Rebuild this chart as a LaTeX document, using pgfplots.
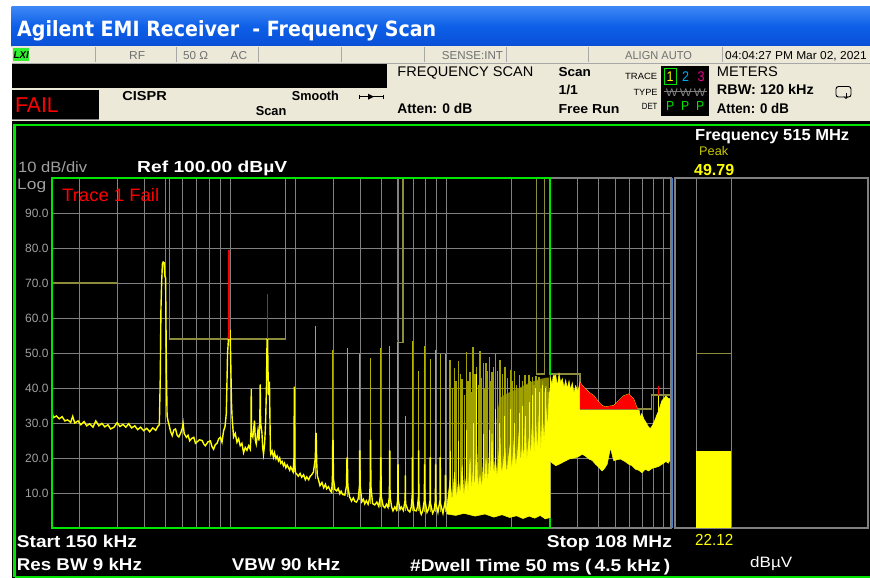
\documentclass[border=0pt]{standalone}
\usepackage{fontspec}
\setmainfont{Liberation Sans}
\newfontfamily\tahoma{DejaVu Sans}
\usepackage{graphicx}
\usepackage{pgfplots}
\pgfplotsset{compat=1.18}
\definecolor{gridgray}{HTML}{808080}
\definecolor{labelgray}{HTML}{A0A0A0}
\definecolor{tyellow}{HTML}{FFFF00}
\definecolor{spikeyellow}{HTML}{B4B400}
\definecolor{spikeolive}{HTML}{A0A000}
\definecolor{limitolive}{HTML}{8C8C3C}
\definecolor{olivefill}{HTML}{7D7D00}
\definecolor{scrgreen}{HTML}{00E600}
\definecolor{sepblue}{HTML}{4A80C8}
\definecolor{xpblue}{HTML}{0D5FE8}
\definecolor{xptop}{HTML}{3C86F5}
\definecolor{xpbot}{HTML}{0A4FD6}
\definecolor{beige}{HTML}{ECE9D8}
\definecolor{rowgray}{HTML}{707070}
\definecolor{sepgray}{HTML}{A8A8A8}
\definecolor{peakyellow}{HTML}{C8C800}
\definecolor{lxigreen}{HTML}{30F030}
\newcommand{\TX}[6]{\node[anchor=base west,inner sep=0pt,text=#6] at (#1pt,-#2pt) {\resizebox{#3pt}{\height}{\fontsize{#4}{#4}\selectfont #5}};}
\begin{document}
\begin{tikzpicture}
\path[use as bounding box] (0pt,0pt) rectangle (870pt,-578pt);
\fill[white] (0pt,0pt) rectangle (870pt,-578pt);
% title bar
\shade[top color=xptop, bottom color=xpbot, middle color=xpblue] (11.5pt,-7pt) rectangle (870pt,-46.5pt);
\TX{17}{36.5}{419}{21}{\tahoma\bfseries Agilent EMI Receiver\ \ - Frequency Scan}{white}
% status rows
\fill[beige] (11.5pt,-46.5pt) rectangle (870pt,-120.5pt);
\draw[sepgray, line width=0.8pt] (11.5pt,-63pt) -- (870pt,-63pt);
\foreach \xx in {95,176,258,341,424,506,588,722} {\draw[sepgray, line width=0.8pt] (\xx pt,-47pt) -- (\xx pt,-62.5pt);}
\fill[lxigreen] (12.5pt,-48pt) rectangle (29.3pt,-61pt);
\TX{13.5}{58.5}{15}{10}{\bfseries\itshape LXI}{black}
\TX{129}{59.5}{16}{11.5}{RF}{rowgray}
\TX{183}{59.5}{25}{11.5}{50 Ω}{rowgray}
\TX{230.5}{59.5}{16.5}{11.5}{AC}{rowgray}
\TX{441.7}{59.5}{61}{11.5}{SENSE:INT}{rowgray}
\TX{625}{59.5}{66.7}{11.5}{ALIGN AUTO}{rowgray}
\TX{725}{59.5}{141.5}{11.5}{04:04:27 PM Mar 02, 2021}{black}
\fill[black] (11.5pt,-64pt) rectangle (387pt,-88pt);
\fill[black] (11.5pt,-90pt) rectangle (99pt,-119pt);
\draw[gridgray, line width=1pt] (11.5pt,-119.5pt) -- (99pt,-119.5pt);
\TX{15}{112.7}{43.5}{21.5}{FAIL}{red}
\TX{122.2}{100}{44.5}{13}{\bfseries CISPR}{black}
\TX{291.7}{100}{47}{13}{\bfseries Smooth}{black}
\TX{255.6}{115}{30.5}{13}{\bfseries Scan}{black}
\draw[black, line width=0.8pt] (359pt,-96.7pt) -- (383pt,-96.7pt);
\draw[black, line width=0.8pt] (359pt,-94.7pt) -- (359pt,-98.7pt);
\draw[black, line width=0.8pt] (383pt,-94.7pt) -- (383pt,-98.7pt);
\fill[black] (368pt,-93.7pt) -- (374pt,-96.7pt) -- (368pt,-99.7pt) -- cycle;
\TX{397.2}{76.7}{136}{14}{FREQUENCY SCAN}{black}
\TX{397.2}{113.3}{75}{14}{\bfseries Atten: 0 dB}{black}
\TX{558.3}{76.7}{32.3}{13}{\bfseries Scan}{black}
\TX{558.3}{95}{19.5}{13}{\bfseries 1/1}{black}
\TX{558.3}{113.3}{61}{13}{\bfseries Free Run}{black}
\TX{625}{80}{32}{9}{TRACE}{black}
\TX{633.3}{95.7}{24}{9}{TYPE}{black}
\TX{641.7}{110}{15.5}{9}{DET}{black}
\fill[black] (661pt,-66pt) rectangle (709pt,-116pt);
\draw[scrgreen, line width=0.8pt] (664pt,-68.5pt) rectangle (676pt,-84pt);
\TX{666.5}{81.7}{7}{14}{1}{tyellow}
\TX{682}{81.7}{7}{14}{2}{cyan}
\TX{697.5}{81.7}{7}{14}{3}{magenta}
\TX{665.6}{96}{40}{11}{W\,W\,W}{gridgray}
\draw[gridgray, line width=0.7pt] (664pt,-91pt) -- (707pt,-91pt);
\TX{666}{110}{38}{13}{P\ \ P\ \ P}{scrgreen}
\TX{716.7}{76.7}{61}{14}{METERS}{black}
\TX{716.7}{95}{97}{14}{\bfseries RBW: 120 kHz}{black}
\TX{716.7}{113.3}{72}{14}{\bfseries Atten: 0 dB}{black}
\draw[black, line width=0.9pt, rounded corners=2.5pt] (836pt,-86.5pt) rectangle (851pt,-97pt);
\draw[black, line width=0.8pt, ->] (846pt,-93pt) -- (846pt,-99pt);
% screen
\fill[black] (11.5pt,-121pt) rectangle (870pt,-578pt);
\draw[scrgreen, line width=2.4pt] (14.5pt,-577pt) -- (14.5pt,-125pt) -- (872pt,-125pt);
\draw[scrgreen, line width=2.4pt] (14.5pt,-577pt) -- (872pt,-577pt);
% main axis
\begin{axis}[
  at={(52pt,-528pt)}, anchor=south west,
  scale only axis, width=618.5pt, height=350pt,
  xmode=log, xmin=0.15, xmax=108, ymin=0, ymax=100,
  axis background/.style={fill=black},
  axis line style={draw=gridgray, line width=2pt},
  xtick={0.2,0.3,0.4,0.5,0.6,0.7,0.8,0.9,1,2,3,4,5,6,7,8,9,10,20,30,40,50,60,70,80,90,100},
  xticklabels={},
  ytick={10,20,30,40,50,60,70,80,90},
  yticklabels={10.0,20.0,30.0,40.0,50.0,60.0,70.0,80.0,90.0},
  yticklabel style={font=\fontsize{12}{12}\selectfont, text=labelgray},
  grid=major, major grid style={draw=gridgray, line width=1pt},
  major tick length=0pt,
  clip=false,
  unbounded coords=jump,
]
% limit line
\addplot[limitolive, line width=1.2pt] coordinates {(0.15,70)(0.300,70)(0.300,100)(0.525,100)(0.525,54)(1.80,54)(1.80,100)(5.91,100)(5.91,53.1)(6.27,53.1)(6.27,100)(26.06,100)(26.06,44)(28.15,44)(28.15,100)(30,100)(30,44)(41.2,44)(41.2,34)(88.4,34)(88.4,38)(108,38)};
% olive dense region
\addplot[fill=olivefill, draw=none] coordinates {(17.0,15)(17.0,31)(17.5,37)(18.4,38)(19.85,39)(21.6,40)(24.0,41.5)(26.7,42.5)(29.1,43)(29.6,43)(29.6,15)} -- cycle;
% spikes 2-10 MHz
\addplot[spikeyellow, line width=1pt] coordinates {
(1.976,16)(1.976,40.4)(1.976,nan)
(2.487,14)(2.487,57.7)(2.487,nan)
(2.977,11)(2.977,50.9)(2.977,nan)
(3.465,9)(3.465,51.4)(3.465,nan)
(3.963,8)(3.963,49.6)(3.963,nan)
(4.440,7)(4.440,48.6)(4.440,nan)
(4.952,6)(4.952,51.4)(4.952,nan)
(5.448,6)(5.448,52.0)(5.448,nan)
(5.949,5)(5.949,53.1)(5.949,nan)
(6.434,5)(6.434,32.1)(6.434,nan)
(6.929,5)(6.929,53.3)(6.929,nan)
(7.407,5)(7.407,45.0)(7.407,nan)
(7.893,4.5)(7.893,52.1)(7.893,nan)
(8.384,4.5)(8.384,48.3)(8.384,nan)
(8.87,4.5)(8.87,51.0)(8.87,nan)
(9.32,4.5)(9.32,49.6)(9.32,nan)
(9.86,4.5)(9.86,49.6)
};
% spikes 10-30 MHz
\addplot[spikeolive, line width=1.4pt] coordinates {
(10.36,4)(10.36,48.1)(10.36,nan)
(10.6,4)(10.6,40)(10.6,nan)
(10.85,4)(10.85,45.8)(10.85,nan)
(11.05,4)(11.05,42)(11.05,nan)
(11.32,4)(11.32,47.6)(11.32,nan)
(11.55,4)(11.55,44)(11.55,nan)
(11.77,4)(11.77,42.7)(11.77,nan)
(12.05,4)(12.05,38)(12.05,nan)
(12.32,4)(12.32,50.2)(12.32,nan)
(12.55,4)(12.55,42)(12.55,nan)
(12.81,4)(12.81,44.5)(12.81,nan)
(13.0,4)(13.0,39)(13.0,nan)
(13.22,4)(13.22,51.7)(13.22,nan)
(13.5,4)(13.5,44)(13.5,nan)
(13.74,4)(13.74,46.1)(13.74,nan)
(14.0,4)(14.0,41)(14.0,nan)
(14.24,4)(14.24,50.7)(14.24,nan)
(14.5,4)(14.5,43)(14.5,nan)
(14.75,4)(14.75,47.2)(14.75,nan)
(14.95,4)(14.95,40)(14.95,nan)
(15.18,4)(15.18,47.1)(15.18,nan)
(15.45,4)(15.45,45)(15.45,nan)
(15.72,4)(15.72,49.0)(15.72,nan)
(15.95,4)(15.95,42)(15.95,nan)
(16.17,4)(16.17,44.5)(16.17,nan)
(16.45,4)(16.45,46)(16.45,nan)
(16.75,4)(16.75,49.6)(16.75,nan)
(17.15,4)(17.15,45)(17.15,nan)
(17.60,4)(17.60,48.1)(17.60,nan)
(18.1,4)(18.1,44)(18.1,nan)
(18.56,4)(18.56,46.1)(18.56,nan)
(19.1,4)(19.1,43)(19.1,nan)
(19.63,4)(19.63,45.2)(19.63,nan)
(20.0,4)(20.0,42)(20.0,nan)
(20.49,4)(20.49,44.9)(20.49,nan)
(21.0,4)(21.0,41)(21.0,nan)
(21.60,4)(21.60,43.6)(21.60,nan)
(22.0,4)(22.0,40)(22.0,nan)
(22.37,4)(22.37,42.1)(22.37,nan)
(23.02,4)(23.02,43.6)(23.02,nan)
(23.5,4)(23.5,41)(23.5,nan)
(24.01,4)(24.01,43.8)(24.01,nan)
(24.4,4)(24.4,42)(24.4,nan)
(24.87,4)(24.87,43.1)(24.87,nan)
(25.3,4)(25.3,41)(25.3,nan)
(25.78,4)(25.78,43.3)(25.78,nan)
(26.2,4)(26.2,42)(26.2,nan)
(26.71,4)(26.71,43.1)(26.71,nan)
(27.2,4)(27.2,40)(27.2,nan)
(27.66,4)(27.66,42.1)(27.66,nan)
(28.2,4)(28.2,39)(28.2,nan)
(28.67,4)(28.67,40.7)(28.67,nan)
(29.3,4)(29.3,39)
};
% main bright trace 150 kHz - 10 MHz
\addplot[tyellow, line width=1.4pt] coordinates {
(0.150,33.5)(0.152,31.5)(0.157,32.0)(0.162,31.2)(0.167,31.8)(0.172,30.6)(0.177,30.9)(0.183,30.2)(0.187,31.9)(0.191,30.0)(0.198,30.6)(0.204,29.5)(0.211,30.4)(0.217,29.2)(0.224,29.8)(0.232,28.8)(0.239,30.6)(0.247,29.2)(0.255,29.9)(0.263,28.9)(0.272,29.5)(0.280,28.3)(0.290,28.8)(0.300,30.1)(0.309,29.0)(0.319,29.6)(0.329,28.8)(0.339,29.8)(0.350,28.6)(0.362,29.2)(0.373,28.1)(0.385,28.8)(0.398,27.8)(0.411,28.5)(0.424,27.5)(0.438,28.6)(0.452,27.9)(0.462,29.0)(0.470,29.5)
(0.4748,44)(0.4778,62)(0.4814,70)(0.4855,75.5)(0.4891,76)(0.4943,75.8)(0.4980,72)(0.5022,71.5)(0.5065,45)(0.5103,32)(0.5157,30.5)
(0.520,29.7)(0.530,27.5)(0.539,26.4)(0.548,28.0)(0.558,28.3)(0.568,26.5)(0.578,26.0)(0.590,27.2)(0.600,28.5)(0.605,29.9)(0.612,27)(0.627,25.9)(0.638,26.5)(0.649,24.9)(0.663,25.6)(0.678,25.9)(0.690,24.2)(0.702,24.6)(0.720,25.2)(0.741,25.0)(0.754,24)(0.767,23.5)(0.788,24.6)(0.809,24.9)(0.822,23.3)(0.837,22.5)(0.852,23.8)(0.868,24.2)(0.884,25.5)(0.899,25.9)(0.915,24.5)(0.931,27.8)(0.945,29)(0.958,32.7)(0.971,50)(0.982,54.8)(0.990,56.4)(0.998,56.4)(1.006,45)(1.012,36)(1.018,32)
(1.035,26)(1.054,27)(1.073,24.5)(1.092,25.5)(1.111,23.5)(1.131,24.2)(1.151,21.5)(1.172,23)(1.193,22.2)(1.215,23.5)(1.236,22.5)(1.245,27)(1.249,39.7)(1.253,27)(1.270,26)(1.280,28)(1.293,30.7)(1.305,25)(1.317,24)(1.330,26)(1.341,27.8)(1.356,25)(1.368,30)(1.374,41)(1.380,30)(1.399,27.3)(1.411,23)(1.423,21.1)(1.440,24)(1.455,30)(1.468,40)(1.478,54)(1.486,54)(1.492,46)(1.500,38)(1.508,41.6)(1.516,41.6)(1.525,30)(1.532,22)(1.539,21.1)(1.560,22)(1.582,20.2)(1.60,21.5)(1.625,19.8)(1.645,20.5)(1.668,19.2)(1.69,20)(1.71,18.5)(1.735,19)(1.759,17.8)(1.78,18.5)(1.805,17.2)(1.83,18)(1.854,17.3)(1.88,16.5)(1.90,17.4)(1.923,16.8)(1.95,16.0)(1.968,20)(1.976,40.4)(1.984,18)(2.00,15.8)(2.027,15.4)(2.06,14.8)(2.10,15.6)(2.137,14.5)(2.18,15.2)(2.22,13.8)(2.253,14.6)(2.30,13.8)(2.34,14.8)(2.376,15.2)(2.42,16)(2.47,20)(2.482,27)(2.492,27)(2.505,19)(2.521,15)(2.56,13.5)(2.595,12.1)(2.65,13)(2.70,11.5)(2.75,12.5)(2.786,11.2)(2.84,11.8)(2.90,10.6)(2.937,10.2)(2.962,14)(2.972,25)(2.982,25)(2.995,14)(3.041,11)(3.10,10.6)(3.15,11.3)(3.207,9.8)(3.25,10.5)(3.30,9.6)(3.381,9.4)(3.44,12)(3.458,20)(3.472,20)(3.49,12)(3.55,9)(3.630,7.7)(3.70,8.6)(3.76,7.6)(3.828,7.4)(3.90,8.4)(3.950,12)(3.958,22)(3.968,22)(3.98,12)(4.05,7.5)(4.12,8.2)(4.179,6.9)(4.25,7.8)(4.33,6.8)(4.40,8.5)(4.432,14)(4.436,25)(4.446,25)(4.46,12)(4.54,7.0)(4.646,6.6)(4.75,7.4)(4.85,6.2)(4.93,9)(4.946,20)(4.958,20)(4.98,9)(5.08,6.3)(5.17,5.8)(5.260,6.8)(5.35,5.9)(5.43,9)(5.443,22)(5.453,22)(5.47,9)(5.56,6)(5.642,4.9)(5.75,6)(5.85,5.2)(5.93,8)(5.944,18)(5.954,18)(5.97,8)(6.08,5.3)(6.167,6)(6.30,5)(6.42,8)(6.434,15)(6.45,7)(6.60,5.2)(6.75,4.6)(6.85,6)(6.92,9)(6.925,20)(6.935,20)(6.95,8)(7.08,5)(7.229,4.9)(7.32,6)(7.40,9)(7.404,22)(7.412,22)(7.43,8)(7.55,4.6)(7.622,3.9)(7.75,5)(7.88,8)(7.890,18)(7.898,18)(7.92,8)(8.10,4.5)(8.25,5.5)(8.37,8)(8.380,20)(8.390,20)(8.41,7)(8.60,4.2)(8.75,5.2)(8.86,8)(8.866,18)(8.876,18)(8.90,7)(9.10,4.5)(9.31,8)(9.316,20)(9.326,20)(9.35,7)(9.60,4.2)(9.85,8)(9.856,15)(9.866,15)(9.89,6)(10.1,4.5)
};
% band 10-30 MHz
\addplot[fill=tyellow, draw=tyellow, line width=0.5pt] coordinates {
(10.0,4)(10.0,6)(10.36,14)(10.6,7)(10.85,16)(11.1,8)(11.32,14)(11.55,9)(11.77,18)(12.0,9)(12.32,15)(12.55,10)(12.81,20)(13.0,10)(13.22,16)(13.45,11)(13.74,24)(13.95,11)(14.24,15)(14.5,11)(14.75,19)(14.95,12)(15.18,20)(15.45,12)(15.72,22)(15.95,13)(16.17,27)(16.45,14)(16.75,20)(17.1,14)(17.6,26)(17.9,15)(18.2,18)(18.56,23)(18.9,15)(19.2,19)(19.63,24)(19.9,16)(20.2,20)(20.49,26)(20.8,17)(21.2,21)(21.6,28)(21.9,18)(22.37,24)(22.7,19)(23.02,30)(23.4,19)(24.01,26)(24.4,20)(24.87,31)(25.3,21)(25.78,30)(26.2,21)(26.71,33)(27.2,22)(27.66,32)(28.2,24)(28.67,35)(29.2,28)(29.7,38)(30.0,40)
(30.0,3)(28.5,2.6)(27,3.6)(25.5,2.8)(24,3.4)(22.5,2.7)(21,3.5)(19.5,3.0)(18,3.8)(16.5,3.1)(15,4.0)(13.5,3.4)(12,4.2)(11,3.6)} -- cycle;
% bright lower parts of the 10-30 MHz spikes
\addplot[tyellow, line width=1pt] coordinates {
(10.36,5)(10.36,22)(10.36,nan)(11.32,5)(11.32,25)(11.32,nan)(12.32,5)(12.32,28)(12.32,nan)(13.22,5)(13.22,30)(13.22,nan)(13.74,5)(13.74,44)(13.74,nan)(14.75,5)(14.75,27)(14.75,nan)(15.72,5)(15.72,28)(15.72,nan)(16.75,5)(16.75,34)(16.75,nan)(17.6,5)(17.6,30)(17.6,nan)(18.56,5)(18.56,32)(18.56,nan)(19.63,5)(19.63,34)(19.63,nan)(20.49,5)(20.49,30)(20.49,nan)(21.6,5)(21.6,33)(21.6,nan)(22.37,5)(22.37,35)(22.37,nan)(23.02,5)(23.02,32)(23.02,nan)(24.01,5)(24.01,36)(24.01,nan)(24.87,5)(24.87,38)(24.87,nan)(25.78,5)(25.78,40)(25.78,nan)(26.71,5)(26.71,39)(26.71,nan)(27.66,5)(27.66,41)(27.66,nan)(28.67,5)(28.67,40)
};
% band 30-108 MHz
\addplot[fill=tyellow, draw=tyellow, line width=0.5pt] coordinates {
(30.0,43.1)(30.64,41)(31.0,43.5)(31.87,43.6)(32.4,40.5)(33.0,44.1)(33.6,41.5)(34.18,42.7)(34.8,40)(35.43,42.3)(36.0,39.8)(36.70,42.1)(37.3,39.5)(38.0,41.5)(38.7,38.5)(39.39,40.7)(40.3,39)(41.22,41.6)(43.0,40.2)(45.36,38.8)(47.8,37.8)(50.42,35.9)(52.2,35.0)(54.1,34.6)(56.05,34.8)(59.09,35.0)(62.31,36.4)(65.7,37.8)(69.29,38.3)(73.0,36.9)(75.42,34.5)(77.5,33.5)(78.5,31.5)(79.53,32.7)(81.6,31.0)(83.84,29.8)(85.64,28.8)(87.21,28.4)(89.5,29.5)(91.96,31.2)(93.6,32.5)(95.24,33.5)(96.9,35.0)(98.62,36.4)(100.7,37.0)(102.9,37.8)(105.4,37.0)(108,37.0)
(108,19.7)(105.5,18.5)(102.9,19.0)(98.62,18.2)(95.24,17.6)(91.96,17.3)(88.5,17.0)(85.64,16.3)(82.5,16.8)(79.8,15.8)(77.0,16.5)(74.39,16.8)(71.76,17.8)(69.29,18.2)(66.5,19.0)(63.45,19.7)(61.0,19.5)(59.09,19.2)(58.0,21)(57.07,23.0)(56.05,20.5)(55.06,18.2)(53.5,17.0)(52.21,16.3)(50.42,17.3)(48.69,18.2)(46.96,19.3)(45.36,19.7)(43.80,20.5)(42.24,21.1)(40.8,20.5)(39.39,20.1)(38.0,19.9)(36.70,19.7)(35.43,19.2)(34.18,18.7)(33.0,18.2)(31.87,17.8)(30.64,18.6)(30.0,19.2)} -- cycle;
\addplot[tyellow, line width=0.8pt] coordinates {(95.24,33.5)(95.24,38)};
% limit segments visible over the band
\addplot[limitolive, line width=1.2pt] coordinates {(41.2,34)(88.4,34)(88.4,38)(108,38)};
% failing parts
\addplot[red, line width=2pt] coordinates {(0.990,54)(0.990,79.4)};
\addplot[red, line width=1.5pt] coordinates {(1.484,54)(1.484,66.8)};
\addplot[red, line width=1pt] coordinates {(5.949,53.1)(5.949,53.8)};
\addplot[fill=red, draw=none] coordinates {(41.22,34)(41.22,41.6)(43.0,40.2)(45.36,38.8)(47.8,37.8)(50.42,35.9)(52.2,35.0)(54.1,34.6)(56.05,34.8)(59.09,35.0)(62.31,36.4)(65.7,37.8)(69.29,38.3)(73.0,36.9)(75.42,34.5)(75.8,34)} -- cycle;
\addplot[red, line width=0.8pt] coordinates {(95.24,38)(95.24,40.7)};
% frame and pass/fail window on top
\draw[gridgray, line width=2pt] (rel axis cs:0,0) rectangle (rel axis cs:1,1);
\draw[scrgreen, line width=2pt] (axis cs:30,0) -- (rel axis cs:0,0) -- (rel axis cs:0,1) -- (axis cs:30,100) -- (axis cs:30,43.6);
\draw[scrgreen, line width=2pt] (axis cs:30,0) -- (axis cs:30,2.8);
\end{axis}
% meter axis
\begin{axis}[
  at={(674.5pt,-528pt)}, anchor=south west,
  scale only axis, width=193.5pt, height=350pt,
  xmin=0, xmax=1, ymin=0, ymax=100,
  axis background/.style={fill=black},
  axis line style={draw=gridgray, line width=2pt},
  xtick={0.113,0.292}, xticklabels={}, ytick=\empty,
  xmajorgrids, major grid style={draw=gridgray, line width=1pt},
  major tick length=0pt, clip=false,
]
\addplot[ybar, bar width=34.6pt, bar shift=0pt, fill=tyellow, draw=none] coordinates {(0.2025,22.12)};
\addplot[limitolive, line width=1.5pt] coordinates {(0.113,49.79)(0.292,49.79)};
\end{axis}
\draw[sepblue, line width=2pt] (672pt,-178pt) -- (672pt,-528pt);
% screen texts
\TX{695}{140}{154}{16}{\bfseries Frequency 515 MHz}{white}
\TX{699}{155.7}{29}{12.5}{Peak}{peakyellow}
\TX{694}{175}{40}{16}{\bfseries 49.79}{tyellow}
\TX{18}{172.3}{69}{15}{10 dB/div}{labelgray}
\TX{17}{189}{29}{15}{Log}{labelgray}
\TX{137}{172.3}{150}{16}{\bfseries Ref 100.00 dBµV}{white}
\TX{62}{201.7}{97}{18}{Trace 1 Fail}{red}
\TX{16.7}{547}{120}{17}{\bfseries Start 150 kHz}{white}
\TX{16.7}{570.7}{125}{17}{\bfseries Res BW 9 kHz}{white}
\TX{231.7}{570.7}{108.3}{17}{\bfseries VBW 90 kHz}{white}
\TX{410}{571}{260}{17}{\bfseries \#Dwell Time 50 ms (\,4.5 kHz\,)}{white}
\TX{546.7}{547.3}{125}{17}{\bfseries Stop 108 MHz}{white}
\TX{695}{545}{38}{16}{22.12}{tyellow}
\TX{750}{567}{42}{15}{dBµV}{white}
\end{tikzpicture}
\end{document}
